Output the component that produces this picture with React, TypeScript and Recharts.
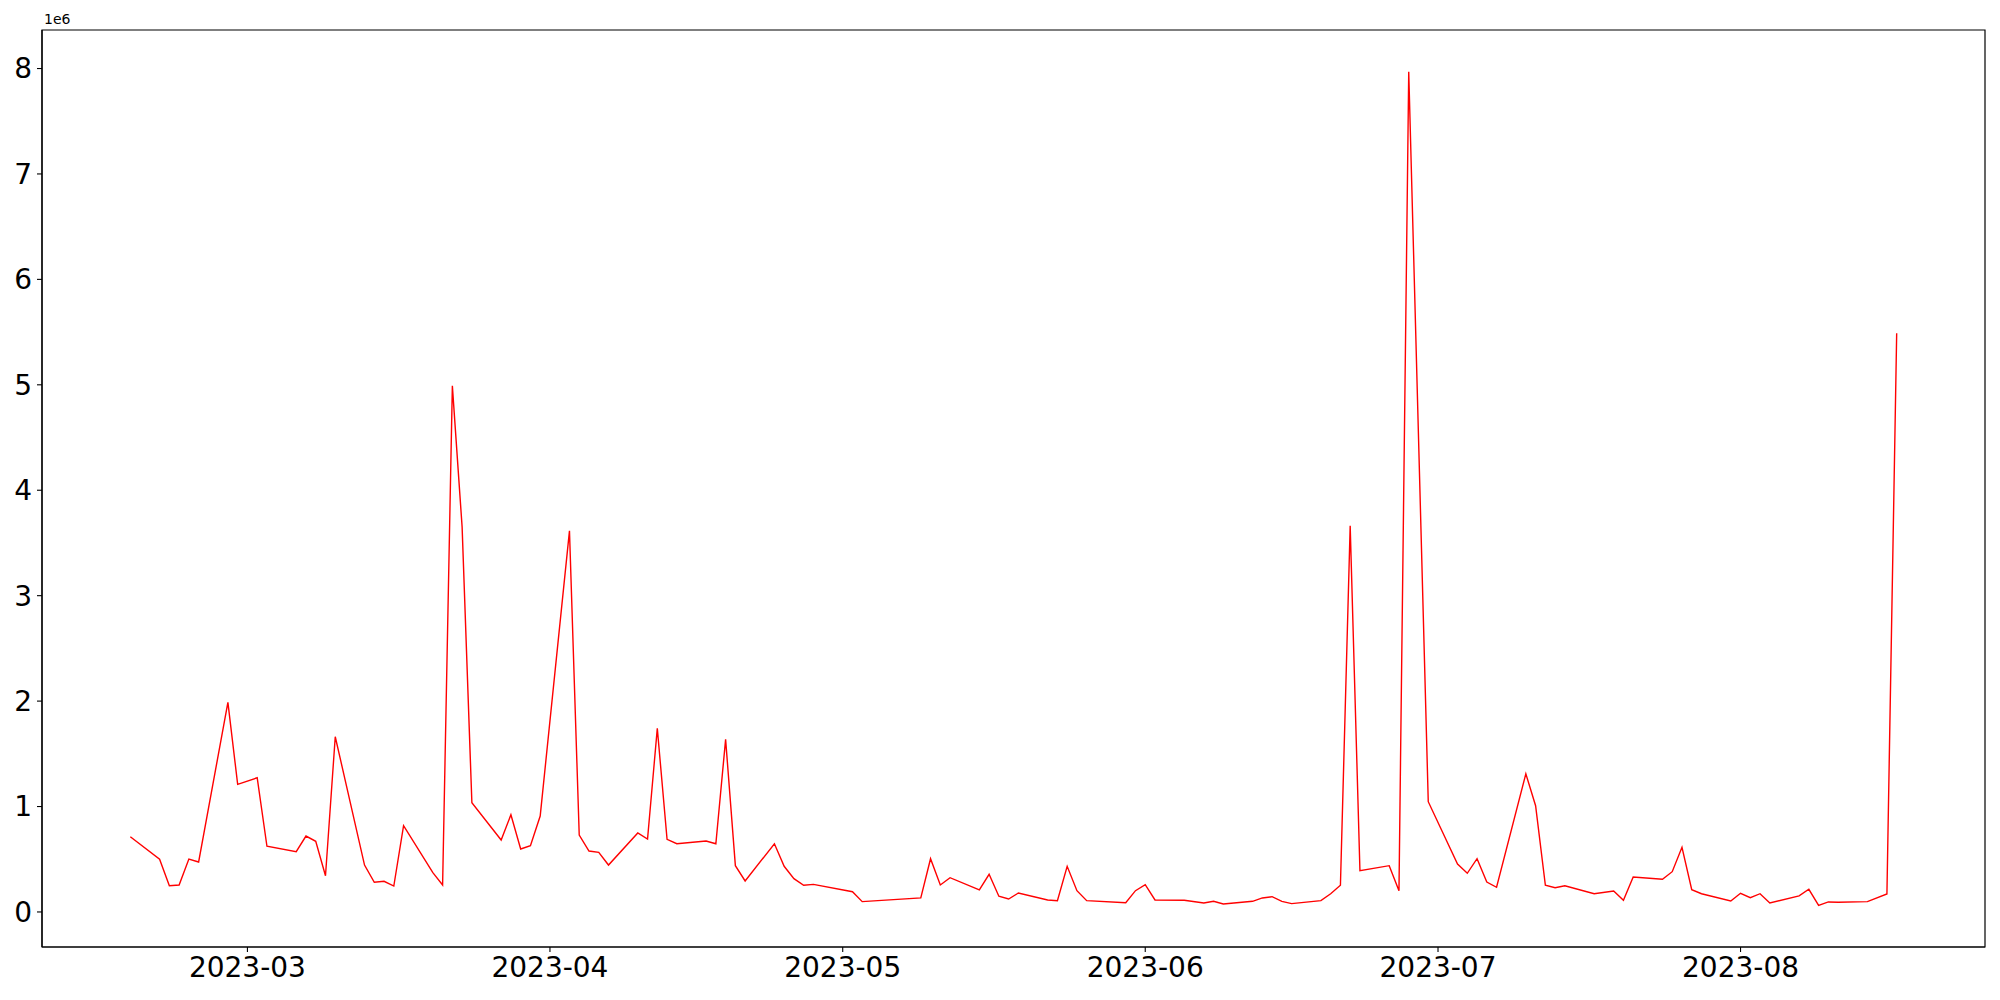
import React from 'react';
import { LineChart, Line, XAxis, YAxis, ReferenceArea } from 'recharts';

const dates: string[] = [
  '2023-02-17', '2023-02-20', '2023-02-21', '2023-02-22', '2023-02-23', '2023-02-24',
  '2023-02-27', '2023-02-28', '2023-03-02', '2023-03-03', '2023-03-06', '2023-03-07',
  '2023-03-08', '2023-03-09', '2023-03-10', '2023-03-13', '2023-03-14', '2023-03-15',
  '2023-03-16', '2023-03-17', '2023-03-20', '2023-03-21', '2023-03-22', '2023-03-23',
  '2023-03-24', '2023-03-27', '2023-03-28', '2023-03-29', '2023-03-30', '2023-03-31',
  '2023-04-03', '2023-04-04', '2023-04-05', '2023-04-06', '2023-04-07', '2023-04-10',
  '2023-04-11', '2023-04-12', '2023-04-13', '2023-04-14', '2023-04-17', '2023-04-18',
  '2023-04-19', '2023-04-20', '2023-04-21', '2023-04-24', '2023-04-25', '2023-04-26',
  '2023-04-27', '2023-04-28', '2023-05-02', '2023-05-03', '2023-05-09', '2023-05-10',
  '2023-05-11', '2023-05-12', '2023-05-15', '2023-05-16', '2023-05-17', '2023-05-18',
  '2023-05-19', '2023-05-22', '2023-05-23', '2023-05-24', '2023-05-25', '2023-05-26',
  '2023-05-30', '2023-05-31', '2023-06-01', '2023-06-02', '2023-06-05', '2023-06-07',
  '2023-06-08', '2023-06-09', '2023-06-12', '2023-06-13', '2023-06-14', '2023-06-15',
  '2023-06-16', '2023-06-19', '2023-06-20', '2023-06-21', '2023-06-22', '2023-06-23',
  '2023-06-26', '2023-06-27', '2023-06-28', '2023-06-30', '2023-07-03', '2023-07-04',
  '2023-07-05', '2023-07-06', '2023-07-07', '2023-07-10', '2023-07-11', '2023-07-12',
  '2023-07-13', '2023-07-14', '2023-07-17', '2023-07-19', '2023-07-20', '2023-07-21',
  '2023-07-24', '2023-07-25', '2023-07-26', '2023-07-27', '2023-07-28', '2023-07-31',
  '2023-08-01', '2023-08-02', '2023-08-03', '2023-08-04', '2023-08-07', '2023-08-08',
  '2023-08-09', '2023-08-10', '2023-08-11', '2023-08-14', '2023-08-16', '2023-08-17',
];

const values: number[] = [
  714000, 500000, 249000, 256000, 502000, 474000,
  1988000, 1210000, 1273000, 623000, 572000, 720000,
  670000, 344000, 1662000, 445000, 282000, 291000,
  246000, 818000, 373000, 256000, 4990000, 3650000,
  1036000, 682000, 922000, 597000, 629000, 910000,
  3615000, 730000, 578000, 566000, 445000, 749000,
  692000, 1741000, 689000, 647000, 673000, 647000,
  1637000, 439000, 294000, 647000, 433000, 316000,
  253000, 262000, 192000, 98000, 133000, 505000,
  256000, 325000, 209000, 357000, 149000, 123000,
  180000, 114000, 107000, 433000, 202000, 107000,
  88000, 202000, 259000, 114000, 111000, 85000,
  101000, 76000, 101000, 133000, 145000, 101000,
  79000, 107000, 173000, 253000, 3664000, 391000,
  439000, 202000, 7970000, 1046000, 455000, 367000,
  505000, 284000, 234000, 1311000, 1008000, 253000,
  230000, 249000, 173000, 199000, 111000, 332000,
  310000, 382000, 613000, 211000, 173000, 104000,
  177000, 136000, 173000, 85000, 152000, 215000,
  63000, 95000, 92000, 98000, 171000, 5490000,
];

const monthTicks: string[] = ['2023-03-01', '2023-04-01', '2023-05-01', '2023-06-01', '2023-07-01', '2023-08-01'];
const yTicks: number[] = [0, 1e6, 2e6, 3e6, 4e6, 5e6, 6e6, 7e6, 8e6];

const data = dates.map((d, i) => ({ t: Date.parse(d), v: values[i] }));
const tMin = data[0].t;
const tMax = data[data.length - 1].t;
const tPad = (tMax - tMin) * 0.05;
const xDomain: [number, number] = [tMin - tPad, tMax + tPad];
const vMin = Math.min(...values);
const vMax = Math.max(...values);
const vPad = (vMax - vMin) * 0.05;
const yDomain: [number, number] = [vMin - vPad, vMax + vPad];
const xTicks = monthTicks.map((d) => Date.parse(d));

const FONT = 'DejaVu Sans, sans-serif';

const fmtMonth = (t: number) => {
  const d = new Date(t);
  const m = d.getUTCMonth() + 1;
  return `${d.getUTCFullYear()}-${m < 10 ? '0' + m : m}`;
};

const OffsetLabel = (props: any) => {
  const vb = props.viewBox || {};
  const x = (vb.x || 0) + (vb.width || 0) + 2;
  const y = (vb.y || 0) - 6;
  return (
    <text x={x} y={y} fontSize={14} fontFamily={FONT} fill="#000">
      1e6
    </text>
  );
};

export default function App() {
  return (
    <div style={{ position: 'absolute', left: 0, top: 0, width: 2000, height: 1000, background: '#fff' }}>
      <LineChart width={2000} height={1000} data={data} margin={{ top: 30, right: 15, left: 0, bottom: 0 }}>
        <XAxis
          dataKey="t"
          type="number"
          domain={xDomain}
          allowDataOverflow
          ticks={xTicks}
          tickFormatter={fmtMonth}
          height={53}
          tickSize={5}
          tickMargin={5}
          stroke="#000"
          axisLine={{ stroke: '#000', strokeWidth: 1.2 }}
          tickLine={{ stroke: '#000', strokeWidth: 1.1 }}
          tick={{ fill: '#000', fontSize: 28, fontFamily: FONT }}
          interval={0}
        />
        <YAxis
          type="number"
          domain={yDomain}
          allowDataOverflow
          ticks={yTicks}
          tickFormatter={(v: number) => String(Math.round(v / 1e6))}
          width={42}
          tickSize={5}
          tickMargin={5}
          stroke="#000"
          axisLine={{ stroke: '#000', strokeWidth: 1.2 }}
          tickLine={{ stroke: '#000', strokeWidth: 1.1 }}
          tick={{ fill: '#000', fontSize: 28, fontFamily: FONT }}
          interval={0}
          label={<OffsetLabel />}
        />
        <ReferenceArea
          x1={xDomain[0]}
          x2={xDomain[1]}
          y1={yDomain[0]}
          y2={yDomain[1]}
          fill="none"
          fillOpacity={0}
          stroke="#000"
          strokeWidth={1.2}
          ifOverflow="visible"
        />
        <Line
          type="linear"
          dataKey="v"
          stroke="#ff0000"
          strokeWidth={1.4}
          dot={false}
          activeDot={false}
          isAnimationActive={false}
        />
      </LineChart>
    </div>
  );
}
